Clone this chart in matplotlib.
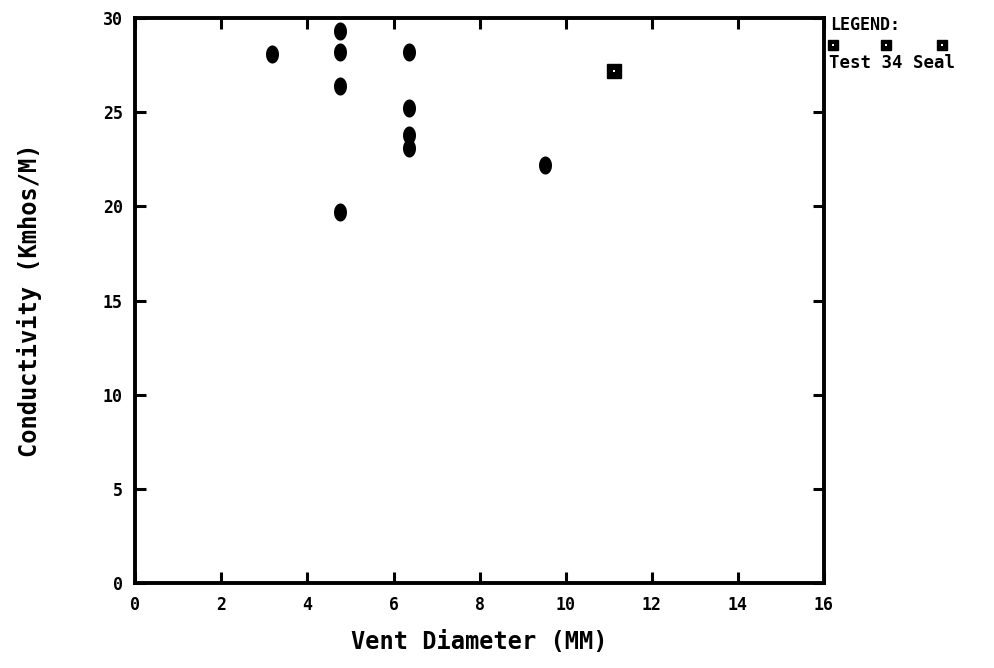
import numpy as np
import matplotlib
matplotlib.use("Agg")
import matplotlib.pyplot as plt
from matplotlib.path import Path

# vent sizes are inch fractions (1/8, 3/16, 1/4, 3/8, 7/16 in) in mm
vent_mm   = [3.175, 4.763, 4.763, 4.763, 4.763, 6.35, 6.35, 6.35, 6.35, 9.525]
cond      = [28.1, 29.3, 28.2, 26.4, 19.7, 28.2, 25.2, 23.8, 23.1, 22.2]
seal_mm   = [11.113]
seal_cond = [27.2]

x_ticks = [0, 2, 4, 6, 8, 10, 12, 14, 16]
y_ticks = [0, 5, 10, 15, 20, 25, 30]

MONO = "DejaVu Sans Mono"

# tall oval marker like the old plotter dots
t = np.linspace(0, 2 * np.pi, 40)
oval = Path(np.column_stack([0.72 * np.cos(t), np.sin(t)]), closed=True)

fig = plt.figure(figsize=(9.95, 6.68), dpi=100)
ax = fig.add_axes([0.136, 0.127, 0.692, 0.846])

ax.plot(vent_mm, cond, linestyle="none", marker=oval, markersize=13,
        color="black", markeredgewidth=0)
ax.plot(seal_mm, seal_cond, linestyle="none", marker="s", markersize=9.5,
        color="black")
ax.plot(seal_mm, seal_cond, linestyle="none", marker="s", markersize=2,
        color="white", markeredgewidth=0)

ax.set_xlim(0, 16)
ax.set_ylim(0, 30)
ax.set_xticks(x_ticks)
ax.set_yticks(y_ticks)
ax.set_xticklabels([str(v) for v in x_ticks], fontfamily=MONO,
                   fontweight="bold", fontsize=12)
ax.set_yticklabels([str(v) for v in y_ticks], fontfamily=MONO,
                   fontweight="bold", fontsize=12)
ax.tick_params(direction="in", length=8, width=2.2, top=True, right=True,
               pad=9)
for s in ax.spines.values():
    s.set_linewidth(2.8)

ax.set_xlabel("Vent Diameter (MM)", fontfamily=MONO, fontsize=17,
              fontweight="bold", labelpad=12)
ax.set_ylabel("Conductivity (Kmhos/M)", fontfamily=MONO, fontsize=17,
              fontweight="bold", labelpad=44)

# hand-drawn style legend in the top right corner
fig.text(0.834, 0.976, "LEGEND:", fontfamily=MONO, fontweight="bold",
         fontsize=12, va="top")
for lx in [0.837, 0.890, 0.947]:
    ax.plot([lx], [0.932], transform=fig.transFigure, clip_on=False,
            linestyle="none", marker="s", markersize=6.5, color="black")
    ax.plot([lx], [0.932], transform=fig.transFigure, clip_on=False,
            linestyle="none", marker="s", markersize=1.5, color="white",
            markeredgewidth=0)
fig.text(0.833, 0.919, "Test 34 Seal", fontfamily=MONO, fontweight="bold",
         fontsize=12.5, va="top")

fig.savefig("out.png", dpi=100)
